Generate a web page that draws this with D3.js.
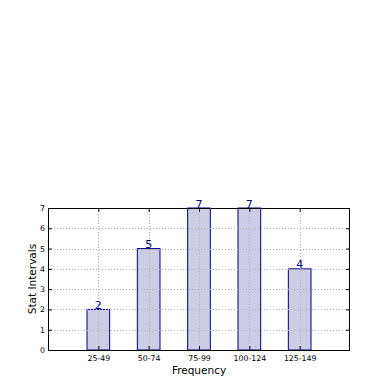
<!DOCTYPE html>
<html><head><meta charset="utf-8">
<script src="https://cdn.jsdelivr.net/npm/d3@7"></script>
<style>body{margin:0;background:#fff}svg{display:block}text{font-family:"DejaVu Sans",sans-serif}</style>
</head><body><svg id="c" width="390" height="390"></svg>
<script>
const categories = ["25-49","50-74","75-99","100-124","125-149"];
const values = [2,5,7,7,4];
const yTicks = [0,1,2,3,4,5,6,7];

const svg = d3.select("#c");
const L=48,R=350,T=208,B=350;
const x = d3.scaleLinear().domain([0,6]).range([L,R]);
const y = d3.scaleLinear().domain([0,7]).range([B,T]);
const bw = x(0.45)-x(0);

// bars
svg.append("g").selectAll("rect").data(values).join("rect")
  .attr("x",(d,i)=>x(i+1)-bw/2).attr("y",d=>y(d))
  .attr("width",bw).attr("height",d=>y(0)-y(d))
  .attr("fill","#ccccE4").attr("stroke","#000080").attr("stroke-width",1);

// grid
const g = svg.append("g").attr("stroke","#b0b0b0").attr("stroke-dasharray","1,2").attr("stroke-width",1);
yTicks.forEach(t=>g.append("line").attr("x1",L).attr("x2",R).attr("y1",Math.round(y(t))+0.5).attr("y2",Math.round(y(t))+0.5));
categories.forEach((c,i)=>g.append("line").attr("x1",Math.round(x(i+1))+0.5).attr("x2",Math.round(x(i+1))+0.5).attr("y1",T).attr("y2",B));

// axes
const ya = svg.append("g").attr("transform",`translate(${L},0)`).call(d3.axisLeft(y).tickValues(yTicks).tickFormat(d3.format("d")).tickSizeInner(-4).tickSizeOuter(0).tickPadding(3));
const ya2 = svg.append("g").attr("transform",`translate(${R},0)`).call(d3.axisRight(y).tickValues(yTicks).tickSizeInner(-4).tickSizeOuter(0).tickFormat(""));
const xa = svg.append("g").attr("transform",`translate(0,${B})`).call(d3.axisBottom(x).tickValues([1,2,3,4,5]).tickFormat((d)=>categories[d-1]).tickSizeInner(-4).tickSizeOuter(0).tickPadding(5));
const xa2 = svg.append("g").attr("transform",`translate(0,${T})`).call(d3.axisTop(x).tickValues([1,2,3,4,5]).tickSizeInner(-4).tickSizeOuter(0).tickFormat(""));
[ya,ya2,xa,xa2].forEach(a=>{a.select(".domain").remove();a.selectAll("text").attr("font-size",7.8).attr("fill","#000").attr("font-family","DejaVu Sans");a.selectAll("line").attr("stroke","#000");});

svg.append("rect").attr("x",L+0.5).attr("y",T+0.5).attr("width",R-L-1).attr("height",B-T).attr("fill","none").attr("stroke","#000").attr("stroke-width",1);

// value labels
svg.append("g").selectAll("text").data(values).join("text")
  .attr("x",(d,i)=>x(i+1)).attr("y",d=>y(d)-0.5)
  .attr("text-anchor","middle").attr("font-size",11).attr("fill","#000080").text(d=>d);

svg.append("text").attr("x",(L+R)/2).attr("y",374).attr("text-anchor","middle").attr("font-size",10.5).text("Frequency");
svg.append("text").attr("transform",`translate(36,${(T+B)/2}) rotate(-90)`).attr("text-anchor","middle").attr("font-size",10.5).text("Stat Intervals");
</script></body></html>
